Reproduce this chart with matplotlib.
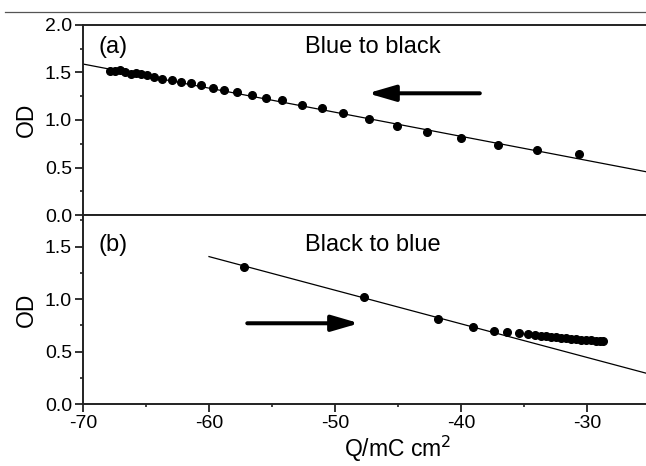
import numpy as np
import matplotlib.pyplot as plt
from matplotlib.lines import Line2D
from matplotlib.ticker import MultipleLocator

plt.rcParams['font.family'] = ['Liberation Sans', 'DejaVu Sans']
plt.rcParams['axes.unicode_minus'] = False

# panel (a): blue to black
qa = [-67.86, -67.46, -67.06, -66.67, -66.19, -65.79, -65.40, -64.92, -64.37,
      -63.73, -62.94, -62.22, -61.43, -60.63, -59.68, -58.81, -57.78, -56.59,
      -55.48, -54.21, -52.64, -51.06, -49.34, -47.30, -45.06, -42.67, -39.98,
      -37.06, -33.97, -30.66]
oda = [1.519, 1.516, 1.526, 1.502, 1.481, 1.492, 1.484, 1.474, 1.456,
       1.435, 1.416, 1.403, 1.393, 1.365, 1.334, 1.316, 1.298, 1.260,
       1.228, 1.211, 1.155, 1.125, 1.071, 1.011, 0.940, 0.877, 0.807,
       0.737, 0.684, 0.642]
fit_a_x = [-70, -20]
fit_a_y = [1.589, 0.321]

# panel (b): black to blue
qb = [-57.20, -47.67, -41.80, -39.02, -37.40, -36.31, -35.40, -34.68, -34.13,
      -33.65, -33.25, -32.86, -32.46, -32.06, -31.67, -31.27, -30.87, -30.48,
      -30.08, -29.68, -29.29, -28.97, -28.73]
odb = [1.309, 1.017, 0.807, 0.731, 0.696, 0.684, 0.674, 0.664, 0.658,
       0.651, 0.645, 0.641, 0.636, 0.631, 0.626, 0.622, 0.618, 0.614,
       0.611, 0.607, 0.604, 0.602, 0.601]
fit_b_x = [-60, -20]
fit_b_y = [1.404, 0.124]

xticks = [-70, -60, -50, -40, -30]

fig = plt.figure(figsize=(6.46, 4.66), dpi=100)
ax1 = fig.add_axes([0.1285, 0.5386, 0.975, 0.4078])
ax2 = fig.add_axes([0.1285, 0.1330, 0.975, 0.4056])

# thin rule at the very top
fig.add_artist(Line2D([0.008, 1.0], [1 - 11.7 / 466, 1 - 11.7 / 466],
                      transform=fig.transFigure, color='#555555', lw=0.9))

for ax in (ax1, ax2):
    ax.set_xlim(-70, -20)
    ax.set_xticks(xticks)
    ax.xaxis.set_minor_locator(MultipleLocator(5))
    ax.yaxis.set_major_locator(MultipleLocator(0.5))
    ax.yaxis.set_minor_locator(MultipleLocator(0.25))
    ax.tick_params(which='major', direction='out', length=5.5, width=1.3,
                   labelsize=14, color='#222222', pad=2.5)
    ax.tick_params(which='minor', direction='out', length=2.5, width=1.2,
                   color='#222222')
    ax.spines['right'].set_visible(False)
    for s in ('left', 'bottom', 'top'):
        ax.spines[s].set_linewidth(1.4)
        ax.spines[s].set_color('#222222')
    ax.set_ylabel('OD', fontsize=16.5, labelpad=5)

ax1.set_ylim(0, 2.0)
ax2.set_ylim(0, 1.8)
ax1.tick_params(axis='x', labelbottom=False)

ax1.plot(fit_a_x, fit_a_y, color='black', lw=0.9)
ax1.plot(qa, oda, 'o', color='black', ms=5.5)
ax2.plot(fit_b_x, fit_b_y, color='black', lw=0.9)
ax2.plot(qb, odb, 'o', color='black', ms=5.5)

arrow = dict(arrowstyle='-|>,head_length=1.1,head_width=0.32', lw=2.9,
             color='black', mutation_scale=15, shrinkA=0, shrinkB=0)
ax1.annotate('', xy=(-47.4, 1.281), xytext=(-38.5, 1.281), arrowprops=arrow)
ax2.annotate('', xy=(-48.07, 0.769), xytext=(-56.96, 0.769), arrowprops=arrow)

ax1.text(-68.75, 1.71, '(a)', fontsize=17, va='baseline')
ax1.text(-52.38, 1.71, 'Blue to black', fontsize=17, va='baseline')
ax2.text(-68.75, 1.46, '(b)', fontsize=17, va='baseline')
ax2.text(-52.38, 1.46, 'Black to blue', fontsize=17, va='baseline')

ax2.set_xlabel('Q/mC cm$^{2}$', fontsize=16.5, labelpad=1)

plt.savefig('out.png', dpi=100)
